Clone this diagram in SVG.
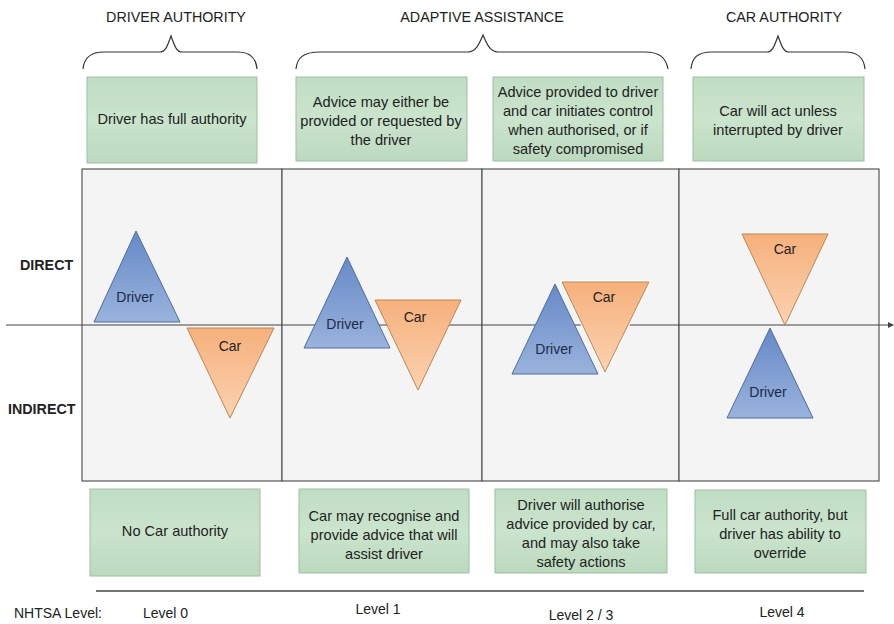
<svg xmlns="http://www.w3.org/2000/svg" width="894" height="624" viewBox="0 0 894 624">
<defs>
<linearGradient id="gBlue" x1="0" y1="0" x2="0" y2="1">
<stop offset="0" stop-color="#6689c8"/><stop offset="1" stop-color="#9ab3dc"/>
</linearGradient>
<linearGradient id="gOrange" x1="0" y1="0" x2="0" y2="1">
<stop offset="0" stop-color="#f6b07c"/><stop offset="1" stop-color="#fbd2b0"/>
</linearGradient>
<linearGradient id="gGreen" x1="0" y1="0" x2="0" y2="1">
<stop offset="0" stop-color="#c0ddc3"/><stop offset="0.5" stop-color="#cbe4cd"/><stop offset="1" stop-color="#bcd9bf"/>
</linearGradient>
<marker id="arr" markerWidth="6" markerHeight="6" refX="5" refY="3" orient="auto" markerUnits="userSpaceOnUse">
<path d="M0,0 L6,3 L0,6 Z" fill="#444"/>
</marker>
</defs>
<style>
text{font-family:"Liberation Sans",Arial,sans-serif;fill:#222}
.hdr{font-size:14.3px;text-anchor:middle}
.box{fill:url(#gGreen);stroke:#9dbfa1;stroke-width:1}
.bt{font-size:14.6px;text-anchor:middle}
.panel{fill:#f4f4f4;stroke:#555;stroke-width:1.2}
.brace{fill:none;stroke:#333;stroke-width:1.2}
.tb{fill:url(#gBlue);stroke:#4f6d9f;stroke-width:1}
.to{fill:url(#gOrange);stroke:#b98755;stroke-width:1}
.tl{font-size:14px;text-anchor:middle}
.tld{fill:#1d2a4a}
.ax{font-size:14.3px;font-weight:bold}
.lvl{font-size:14px}
</style>
<rect width="894" height="624" fill="#ffffff"/>

<g id="headers">
<text class="hdr" x="176" y="22">DRIVER AUTHORITY</text>
<text class="hdr" x="482" y="22">ADAPTIVE ASSISTANCE</text>
<text class="hdr" x="784" y="22">CAR AUTHORITY</text>
</g>

<g id="braces">
<path class="brace" d="M83,69 C84,58 90,52 104,52 L160,52 C166,52 168,44 171,36 C174,44 176,52 182,52 L238,52 C250,52 256,58 257,69"/>
<path class="brace" d="M296,69 C297,58 303,52 320,52 L468,52 C476,52 479,44 483,35 C487,44 490,52 498,52 L645,52 C660,52 666,58 668,69"/>
<path class="brace" d="M691,69 C692,58 697,52 712,52 L767,52 C773,52 775,44 778,36 C781,44 783,52 789,52 L845,52 C858,52 864,58 865,69"/>
</g>

<g id="top-boxes">
<g id="top1"><rect class="box" x="87" y="77" width="170" height="86"/><text class="bt" x="172" y="124">Driver has full authority</text></g>
<g id="top2"><rect class="box" x="296" y="77" width="171" height="84"/>
<text class="bt" x="381" y="107">Advice may either be</text><text class="bt" x="381" y="126">provided or requested by</text><text class="bt" x="381" y="145">the driver</text></g>
<g id="top3"><rect class="box" x="493" y="77" width="170" height="84"/>
<text class="bt" x="578" y="97">Advice provided to driver</text><text class="bt" x="578" y="116">and car initiates control</text><text class="bt" x="578" y="135">when authorised, or if</text><text class="bt" x="578" y="154">safety compromised</text></g>
<g id="top4"><rect class="box" x="693" y="77" width="171" height="84"/>
<text class="bt" x="778" y="116">Car will act unless</text><text class="bt" x="778" y="135">interrupted by driver</text></g>
</g>

<g id="panels">
<rect class="panel" x="82" y="169" width="200" height="312"/>
<rect class="panel" x="282" y="169" width="200" height="312"/>
<rect class="panel" x="482" y="169" width="197" height="312"/>
<rect class="panel" x="679" y="169" width="200" height="312"/>
</g>

<g id="connectors">
<line x1="6" y1="325" x2="893" y2="325" stroke="#444" stroke-width="1.2" marker-end="url(#arr)"/>
<line x1="96" y1="591" x2="864" y2="591" stroke="#444" stroke-width="1.5"/>
</g>

<g id="axis-labels">
<text class="ax" x="20" y="270">DIRECT</text>
<text class="ax" x="8" y="414">INDIRECT</text>
</g>

<g id="l0-driver"><polygon class="tb" points="136,231 180,322 94,322"/><text class="tl tld" x="135" y="302">Driver</text></g>
<g id="l0-car"><polygon class="to" points="187,328 274,328 230,418"/><text class="tl" x="230" y="351">Car</text></g>

<g id="l1-driver"><polygon class="tb" points="347,257 390,348 304,348"/><text class="tl tld" x="345" y="329">Driver</text></g>
<g id="l1-car"><polygon class="to" points="375,300 461,300 418,390"/><text class="tl" x="415" y="322">Car</text></g>

<g id="l23-driver"><polygon class="tb" points="555,284 598,374 512,374"/><text class="tl tld" x="554" y="354">Driver</text></g>
<g id="l23-car"><polygon points="562,282 649,282 605,372" stroke="#ffffff" stroke-width="3" fill="none"/><polygon class="to" points="562,282 649,282 605,372"/><text class="tl" x="604" y="302">Car</text></g>

<g id="l4-car"><polygon class="to" points="742,234 828,234 785,325"/><text class="tl" x="785" y="254">Car</text></g>
<g id="l4-driver"><polygon class="tb" points="770,328 813,418 727,418"/><text class="tl tld" x="768" y="397">Driver</text></g>

<g id="bottom-boxes">
<g id="bot1"><rect class="box" x="90" y="489" width="170" height="87"/><text class="bt" x="175" y="536">No Car authority</text></g>
<g id="bot2"><rect class="box" x="299" y="489" width="170" height="84"/>
<text class="bt" x="384" y="521">Car may recognise and</text><text class="bt" x="384" y="540">provide advice that will</text><text class="bt" x="384" y="559">assist driver</text></g>
<g id="bot3"><rect class="box" x="495" y="489" width="172" height="84"/>
<text class="bt" x="581" y="510">Driver will authorise</text><text class="bt" x="581" y="529">advice provided by car,</text><text class="bt" x="581" y="548">and may also take</text><text class="bt" x="581" y="567">safety actions</text></g>
<g id="bot4"><rect class="box" x="695" y="490" width="171" height="83"/>
<text class="bt" x="780" y="520">Full car authority, but</text><text class="bt" x="780" y="539">driver has ability to</text><text class="bt" x="780" y="558">override</text></g>
</g>

<g id="levels">
<text class="lvl" x="14" y="618">NHTSA Level:</text>
<text class="lvl" x="143" y="618">Level 0</text>
<text class="lvl" x="378" y="614" text-anchor="middle">Level 1</text>
<text class="lvl" x="581" y="620" text-anchor="middle">Level 2 / 3</text>
<text class="lvl" x="782" y="617" text-anchor="middle">Level 4</text>
</g>
</svg>
